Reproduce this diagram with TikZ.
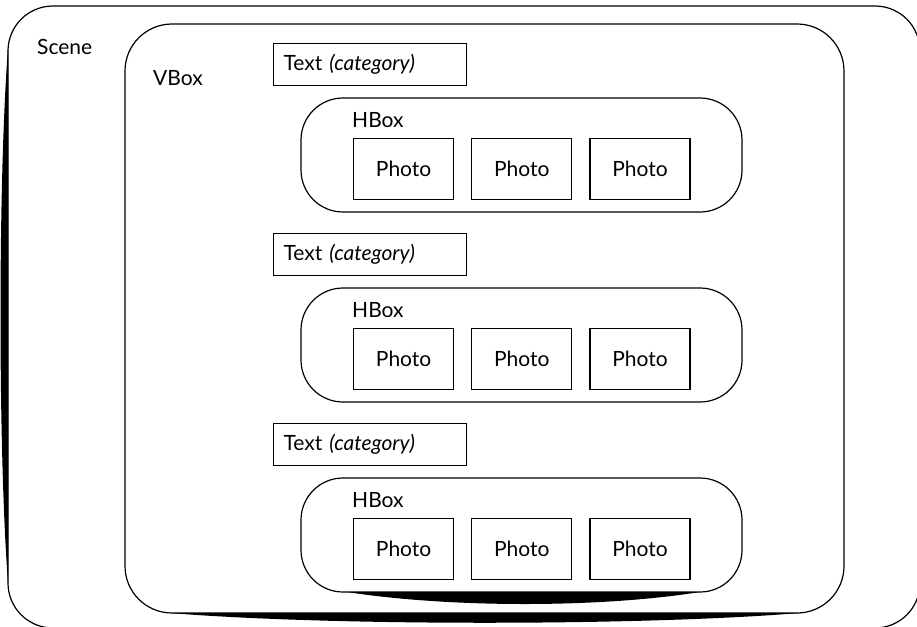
\documentclass[tikz,border=0pt]{standalone}
\usepackage{fontspec}
\setmainfont{Lato}
\usetikzlibrary{positioning}
\tikzset{
  container/.style={line width=1.2pt},
  photo/.style={draw, line width=1.2pt, minimum width=100pt, minimum height=61pt, inner sep=0pt},
  textbox/.style={draw, line width=1.2pt, minimum height=42pt, text width=173pt, inner xsep=10pt, inner ysep=0pt, align=left},
  lbl/.style={inner sep=0pt, anchor=base west}
}

\begin{document}
\begin{tikzpicture}[x=1pt, y=-1pt, font=\fontsize{21}{25}\selectfont]
    \useasboundingbox (0,0) rectangle (917,626);
    % Scene
    \draw[container, rounded corners=45pt] (8,6) rectangle (920,628);
    \fill (8,48) .. controls (-2,180) and (-2,450) .. (8,583) -- cycle;
    \node[lbl] (scene) at (37,55) {Scene};
    % VBox
    \draw[container, rounded corners=47pt] (125,24) rectangle (844,613);
    \fill (170,613) .. controls (330,626) and (640,626) .. (800,613) -- cycle;
    \node[lbl] (vbox) at (153,85) {VBox};
    % Category rows
    \foreach \i/\dy in {1/0, 2/190, 3/380} {
      \node[textbox, anchor=north west] (text\i) at (273,43+\dy) {Text \textit{(category)}};
      \draw[container, rounded corners=42pt] (301,98+\dy) rectangle (742,212+\dy);
      \node[lbl] (hbox\i) at (352,127+\dy) {HBox};
      \node[photo, anchor=north west] (ph\i a) at (353,138+\dy) {Photo};
      \node[photo, right=17pt of ph\i a] (ph\i b) {Photo};
      \node[photo, right=17pt of ph\i b] (ph\i c) {Photo};
    }
    % Heavy stroke under the last HBox
    \fill (347,592) .. controls (450,608) and (600,608) .. (700,592) -- cycle;
\end{tikzpicture}
\end{document}
